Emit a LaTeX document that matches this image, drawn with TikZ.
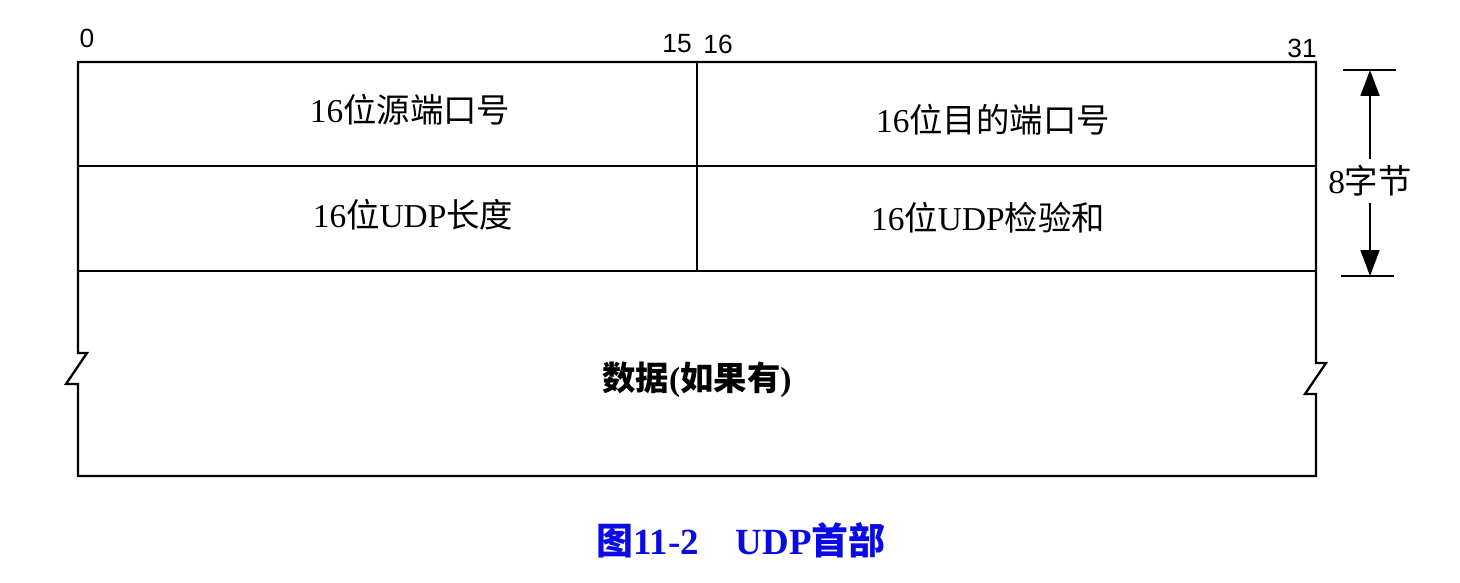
\documentclass[tikz,border=0pt]{standalone}
\usepackage{fontspec}
\usetikzlibrary{arrows.meta}
\setmainfont{Liberation Serif}
\newfontfamily\cjk{Noto Sans CJK SC}
\newfontfamily\numfont{Liberation Sans}
\definecolor{capblue}{RGB}{10,10,230}
\tikzset{
  field/.style={font=\fontsize{19}{22}\selectfont},
  bitno/.style={font=\numfont\fontsize{15}{18}\selectfont},
  dim/.style={line width=1pt,-{Triangle[length=0.52cm,width=0.38cm]}}
}
\begin{document}
\begin{tikzpicture}[x=0.02cm,y=-0.02cm,line width=1.3pt]
  \useasboundingbox (0,0) rectangle (1460,582);
  % outline with the break marks
  \draw (78,62) -- (1316,62) -- (1316,363) -- (1326,363) -- (1305,394)
        -- (1316,394) -- (1316,476) -- (78,476) -- (78,384) -- (66,384)
        -- (87,353) -- (78,353) -- cycle;
  \draw (78,166) -- (1316,166);
  \draw (78,271) -- (1316,271);
  \draw (697,62) -- (697,271);
  % bit numbers
  \node[bitno] (b0) at (87,38) {0};
  \node[bitno] (b15) at (677,44) {15};
  \node[bitno] (b16) at (718,44) {16};
  \node[bitno] (b31) at (1302,48) {31};
  % fields
  \node[field] (src) at (410,110) {16{\cjk 位源端口号}};
  \node[field] (dst) at (993,120) {16{\cjk 位目的端口号}};
  \node[field] (len) at (413,215) {16{\cjk 位}UDP{\cjk 长度}};
  \node[field] (sum) at (988,218) {16{\cjk 位}UDP{\cjk 检验和}};
  \node[field] (data) at (697,380) {\bfseries{\cjk 数据}({\cjk 如果有})};
  % header size
  \coordinate (top) at (1370,70);
  \coordinate (bot) at (1370,276);
  \draw[line width=1pt] (1343,70) -- (1396,70);
  \draw[line width=1pt] (1341,276) -- (1394,276);
  \node[field] (size) at (1370,181) {8{\cjk 字节}};
  \draw[dim] (size) -- (top);
  \draw[dim] (size) -- (bot);
  % caption
  \node[font=\fontsize{21}{25}\selectfont\bfseries, text=capblue] (cap) at (741,540)
    {{\cjk 图}11-2\quad UDP{\cjk 首部}};
\end{tikzpicture}
\end{document}
